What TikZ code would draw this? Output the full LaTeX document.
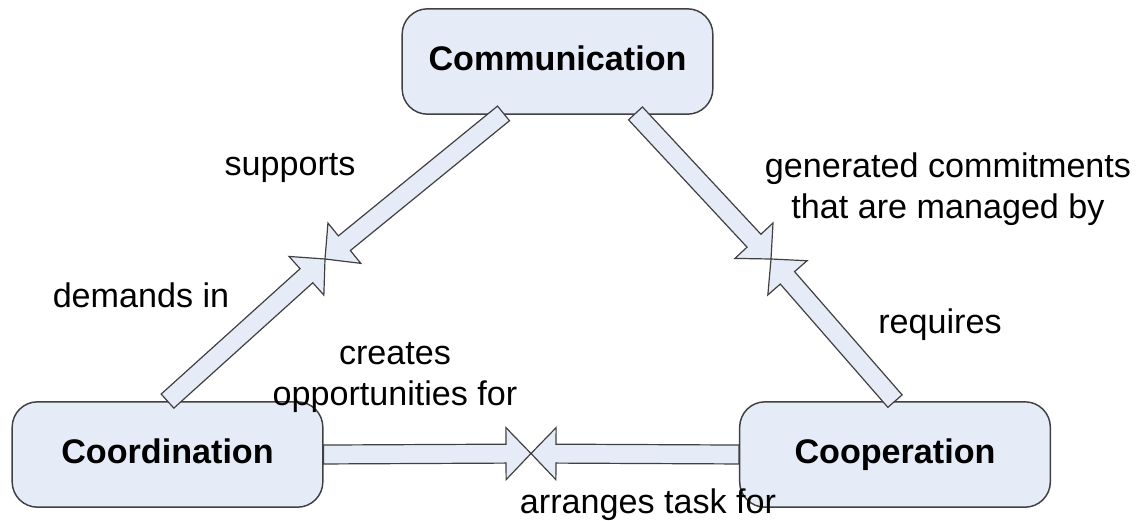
\documentclass[tikz,border=0pt]{standalone}
\usepackage{fontspec}
\setmainfont{Liberation Sans}
\usetikzlibrary{calc}

\definecolor{boxfill}{RGB}{230,236,247}
\definecolor{boxline}{RGB}{64,64,64}

\tikzset{
  concept/.style={draw=boxline, fill=boxfill, line width=1.1pt, rounded corners=19pt,
    minimum width=233pt, minimum height=79pt, inner sep=0pt,
    text height=18.5pt, text depth=5pt,
    font=\fontsize{25.6}{30.4}\selectfont\bfseries},
  relation/.style={anchor=base, inner sep=0pt, align=center,
    font=\fontsize{25.6}{30.4}\selectfont},
  blockarr/.style={draw=boxline, fill=boxfill, line width=0.9pt, line join=miter}
}

% block arrow from #1 to #2
\newcommand{\blockarrow}[2]{%
  \coordinate (hb) at ($(#2)!18.75pt!(#1)$);
  \draw[blockarr] ($(#1)!7.1pt!90:(#2)$) -- ($(hb)!7.1pt!90:(#2)$)
    -- ($(hb)!19.5pt!90:(#2)$) -- (#2) -- ($(hb)!19.5pt!-90:(#2)$)
    -- ($(hb)!7.1pt!-90:(#2)$) -- ($(#1)!7.1pt!-90:(#2)$) -- cycle;
}

\begin{document}
\begin{tikzpicture}[x=0.75pt, y=-0.75pt]
	\useasboundingbox (0,0) rectangle (1143,521);
	\node[concept] (comm) at (557.5,61.5) {Communication};
	\node[concept] (coord) at (167.5,454.5) {Coordination};
	\node[concept] (coop) at (895,454.5) {Cooperation};

	\coordinate (xl) at (325,259);
	\coordinate (xr) at (771,259);
	\coordinate (xb) at (531,453.5);
	\coordinate (commL) at ($(comm.south)+(-54,-1.5)$);
	\coordinate (commR) at ($(comm.south)+(78,-1.5)$);

	\blockarrow{commL}{xl}
	\blockarrow{coord.north}{xl}
	\blockarrow{commR}{xr}
	\blockarrow{coop.north}{xr}
	\blockarrow{coord.east}{xb}
	\blockarrow{coop.west}{xb}

	\node[relation] (supports) at (290,175) {supports};
	\node[relation] (demands) at (141,307) {demands in};
	\node[relation] (generated) at (948,218) {generated commitments\\that are managed by};
	\node[relation] (requires) at (940,333) {requires};
	\node[relation] (creates) at (395,405) {creates\\opportunities for};
	\node[relation] (arranges) at (648,513) {arranges task for};
\end{tikzpicture}
\end{document}
